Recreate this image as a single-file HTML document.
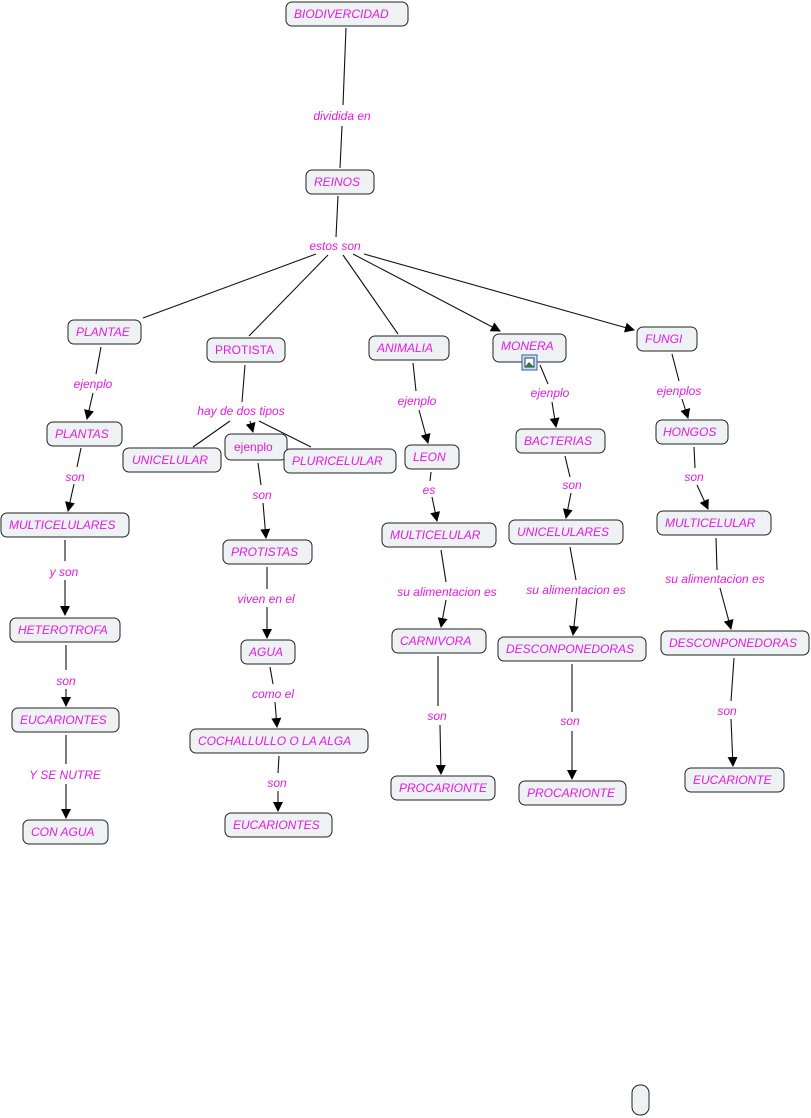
<!DOCTYPE html>
<html><head><meta charset="utf-8"><style>
html,body{margin:0;padding:0;background:#fff;}
svg{display:block;}
text{font-family:"Liberation Sans",sans-serif;font-size:12px;font-style:italic;fill:#e619e6;}
.n{fill:#eef2f5;stroke:#222;stroke-width:1;}
line{stroke:#111;stroke-width:1.1;}
.a{marker-end:url(#ar);}
</style></head><body>
<svg width="811" height="1118" viewBox="0 0 811 1118" xmlns="http://www.w3.org/2000/svg">
<defs><marker id="ar" markerWidth="10" markerHeight="10" refX="9" refY="5" orient="auto" markerUnits="userSpaceOnUse"><path d="M0,0 L10,5 L0,10 z" fill="#000"/></marker></defs>

<!-- lines -->
<line x1="346" y1="28" x2="343" y2="105"/>
<line x1="342" y1="126" x2="340" y2="168"/>
<line x1="338" y1="196" x2="336" y2="237"/>
<line x1="316" y1="254" x2="143" y2="318"/>
<line x1="328" y1="255" x2="249" y2="336"/>
<line x1="343" y1="255" x2="398" y2="334"/>
<line class="a" x1="353" y1="254" x2="500" y2="331"/>
<line class="a" x1="364" y1="254" x2="634" y2="330"/>
<!-- plantae -->
<line x1="101" y1="347" x2="96" y2="374"/>
<line class="a" x1="93" y1="393" x2="87" y2="419"/>
<line x1="81" y1="448" x2="77" y2="467"/>
<line class="a" x1="74" y1="484" x2="68" y2="511"/>
<line x1="65" y1="540" x2="65" y2="561"/>
<line class="a" x1="65" y1="580" x2="65" y2="615"/>
<line x1="66" y1="645" x2="66" y2="670"/>
<line class="a" x1="66" y1="689" x2="66" y2="706"/>
<line x1="66" y1="735" x2="66" y2="764"/>
<line class="a" x1="66" y1="784" x2="66" y2="818"/>
<!-- protista -->
<line x1="245" y1="365" x2="242" y2="402"/>
<line x1="230" y1="421" x2="193" y2="447"/>
<line x1="259" y1="421" x2="311" y2="447"/>
<line class="a" x1="250" y1="421" x2="253" y2="432"/>
<line x1="258" y1="463" x2="261" y2="485"/>
<line class="a" x1="263" y1="503" x2="266" y2="538"/>
<line x1="267" y1="567" x2="267" y2="589"/>
<line class="a" x1="267" y1="607" x2="267" y2="638"/>
<line x1="270" y1="667" x2="273" y2="684"/>
<line class="a" x1="275" y1="702" x2="277" y2="727"/>
<line x1="279" y1="756" x2="278" y2="773"/>
<line class="a" x1="278" y1="791" x2="278" y2="811"/>
<!-- animalia -->
<line x1="413" y1="363" x2="416" y2="391"/>
<line class="a" x1="419" y1="410" x2="428" y2="443"/>
<line x1="431" y1="472" x2="430" y2="481"/>
<line class="a" x1="432" y1="497" x2="437" y2="521"/>
<line x1="441" y1="550" x2="446" y2="582"/>
<line class="a" x1="446" y1="600" x2="441" y2="627"/>
<line x1="438" y1="656" x2="438" y2="706"/>
<line class="a" x1="440" y1="725" x2="441" y2="774"/>
<!-- monera -->
<line x1="540" y1="365" x2="548" y2="384"/>
<line class="a" x1="552" y1="402" x2="556" y2="427"/>
<line x1="565" y1="456" x2="570" y2="477"/>
<line class="a" x1="571" y1="493" x2="566" y2="518"/>
<line x1="570" y1="547" x2="576" y2="580"/>
<line class="a" x1="577" y1="598" x2="573" y2="635"/>
<line x1="572" y1="664" x2="572" y2="712"/>
<line class="a" x1="572" y1="731" x2="572" y2="779"/>
<!-- fungi -->
<line x1="672" y1="354" x2="679" y2="381"/>
<line class="a" x1="682" y1="399" x2="688" y2="418"/>
<line x1="694" y1="447" x2="695" y2="468"/>
<line class="a" x1="697" y1="485" x2="708" y2="509"/>
<line x1="716" y1="538" x2="717" y2="570"/>
<line class="a" x1="720" y1="588" x2="731" y2="629"/>
<line x1="734" y1="658" x2="731" y2="701"/>
<line class="a" x1="731" y1="719" x2="733" y2="766"/>

<!-- link labels -->
<g text-anchor="middle">
<text x="342" y="120">dividida en</text>
<text x="335" y="250">estos son</text>
<text x="93" y="388">ejenplo</text>
<text x="75" y="481">son</text>
<text x="64" y="576">y son</text>
<text x="66" y="685">son</text>
<text x="65" y="779">Y SE NUTRE</text>
<text x="241" y="415">hay de dos tipos</text>
<text x="262" y="499">son</text>
<text x="266" y="603">viven en el</text>
<text x="273" y="698">como el</text>
<text x="277" y="787">son</text>
<text x="417" y="405">ejenplo</text>
<text x="429" y="494">es</text>
<text x="447" y="596">su alimentacion es</text>
<text x="437" y="720">son</text>
<text x="550" y="397">ejenplo</text>
<text x="572" y="489">son</text>
<text x="576" y="594">su alimentacion es</text>
<text x="570" y="725">son</text>
<text x="679" y="395">ejenplos</text>
<text x="694" y="481">son</text>
<text x="715" y="583">su alimentacion es</text>
<text x="727" y="715">son</text>
</g>

<!-- nodes -->
<g>
<rect class="n" x="286" y="2" width="122" height="24" rx="6"/><text x="294" y="18">BIODIVERCIDAD</text>
<rect class="n" x="306" y="170" width="68" height="24" rx="6"/><text x="314" y="186">REINOS</text>
<rect class="n" x="68" y="320" width="73" height="24" rx="6"/><text x="76" y="336">PLANTAE</text>
<rect class="n" x="207" y="338" width="78" height="24" rx="6"/><text x="215" y="354" style="font-style:normal">PROTISTA</text>
<rect class="n" x="369" y="336" width="80" height="24" rx="6"/><text x="377" y="352">ANIMALIA</text>
<rect class="n" x="493" y="334" width="73" height="28" rx="6"/><text x="501" y="350">MONERA</text>
<rect x="522" y="355" width="15" height="15" fill="#cfe0f0" stroke="#2a5fa8"/><rect x="525" y="358" width="9" height="9" fill="#fff" stroke="#335"/><path d="M525 367 L529 362 L534 367 z" fill="#2a7a3a"/>
<rect class="n" x="637" y="327" width="60" height="24" rx="6"/><text x="645" y="343">FUNGI</text>
<rect class="n" x="47" y="422" width="75" height="24" rx="6"/><text x="55" y="438">PLANTAS</text>
<rect class="n" x="123" y="448" width="98" height="24" rx="6"/><text x="132" y="464">UNICELULAR</text>
<rect class="n" x="225" y="434" width="62" height="26" rx="6"/><text x="234" y="451" style="font-style:normal">ejenplo</text>
<rect class="n" x="284" y="449" width="112" height="24" rx="6"/><text x="292" y="465">PLURICELULAR</text>
<rect class="n" x="405" y="445" width="54" height="24" rx="6"/><text x="413" y="461">LEON</text>
<rect class="n" x="516" y="429" width="89" height="24" rx="6"/><text x="524" y="445">BACTERIAS</text>
<rect class="n" x="656" y="420" width="72" height="24" rx="6"/><text x="663" y="436">HONGOS</text>
<rect class="n" x="1" y="513" width="128" height="24" rx="6"/><text x="9" y="529">MULTICELULARES</text>
<rect class="n" x="223" y="540" width="89" height="24" rx="6"/><text x="231" y="556">PROTISTAS</text>
<rect class="n" x="382" y="523" width="114" height="24" rx="6"/><text x="390" y="539">MULTICELULAR</text>
<rect class="n" x="509" y="520" width="114" height="24" rx="6"/><text x="517" y="536">UNICELULARES</text>
<rect class="n" x="657" y="511" width="114" height="24" rx="6"/><text x="665" y="527">MULTICELULAR</text>
<rect class="n" x="10" y="618" width="110" height="24" rx="6"/><text x="18" y="634">HETEROTROFA</text>
<rect class="n" x="241" y="640" width="54" height="24" rx="6"/><text x="249" y="656">AGUA</text>
<rect class="n" x="392" y="629" width="94" height="24" rx="6"/><text x="400" y="645">CARNIVORA</text>
<rect class="n" x="498" y="637" width="148" height="24" rx="6"/><text x="506" y="653">DESCONPONEDORAS</text>
<rect class="n" x="661" y="631" width="148" height="24" rx="6"/><text x="669" y="647">DESCONPONEDORAS</text>
<rect class="n" x="12" y="708" width="107" height="24" rx="6"/><text x="20" y="724">EUCARIONTES</text>
<rect class="n" x="190" y="729" width="178" height="24" rx="6"/><text x="198" y="745">COCHALLULLO O LA ALGA</text>
<rect class="n" x="391" y="776" width="104" height="24" rx="6"/><text x="399" y="792">PROCARIONTE</text>
<rect class="n" x="519" y="781" width="107" height="24" rx="6"/><text x="527" y="797">PROCARIONTE</text>
<rect class="n" x="685" y="768" width="99" height="24" rx="6"/><text x="693" y="784">EUCARIONTE</text>
<rect class="n" x="23" y="820" width="85" height="24" rx="6"/><text x="31" y="836">CON AGUA</text>
<rect class="n" x="225" y="813" width="107" height="24" rx="6"/><text x="233" y="829">EUCARIONTES</text>
<rect class="n" x="632" y="1085" width="17" height="30" rx="8"/>
</g>
</svg>
</body></html>
